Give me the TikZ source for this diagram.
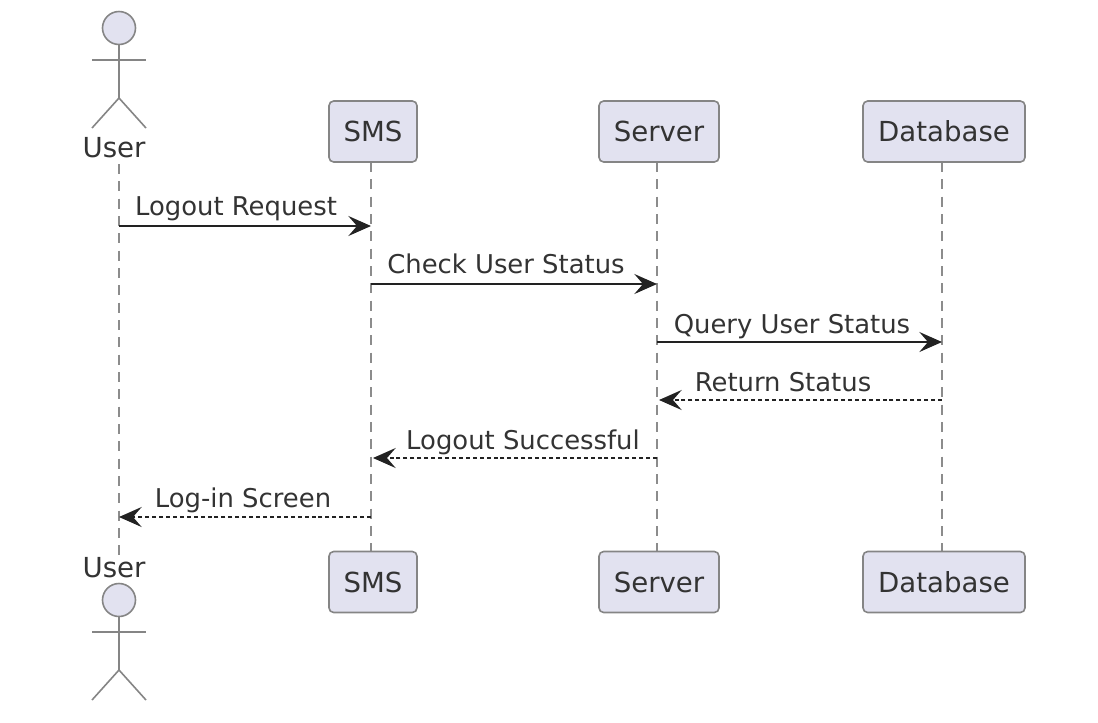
\documentclass[tikz,border=0pt]{standalone}
\usepackage{fontspec}
\setmainfont{DejaVu Sans}
\usepackage{tikz}
\usetikzlibrary{arrows.meta}
\definecolor{partfill}{HTML}{E2E2F0}
\definecolor{partline}{HTML}{858585}
\definecolor{lifeline}{HTML}{8C8C8C}
\definecolor{inktext}{HTML}{333333}
\definecolor{msgline}{HTML}{222222}

\begin{document}
\begin{tikzpicture}[
		x=0.75pt, y=-0.75pt,
		part/.style={draw=partline, fill=partfill, text=inktext, rounded corners=3.5pt, line width=1.2pt, minimum height=45.75pt, inner sep=0pt, font=\fontsize{20.7}{24}\selectfont},
		actorlabel/.style={text=inktext, anchor=base, inner sep=0pt, font=\fontsize{20.7}{24}\selectfont},
		msglabel/.style={text=inktext, anchor=base, inner sep=0pt, font=\fontsize{19.4}{23}\selectfont},
		stick/.style={draw=partline, line width=1.2pt},
		life/.style={draw=lifeline, line width=1.1pt, dash pattern=on 7.5pt off 5.5pt},
		call/.style={-{Stealth[length=17pt, width=15pt, inset=6.5pt]}, draw=msgline, line width=1.4pt},
		reply/.style={call, dash pattern=on 3pt off 2.2pt}
	]
	\useasboundingbox (0, 0) rectangle (1098, 722);

	% Lifeline ends
	\node[actorlabel] (usertop) at (114, 157) {User};
	\node[actorlabel] (userbot) at (114, 577) {User};
	\coordinate (ulstart) at (119, 164);
	\coordinate (ulend) at (119, 555);

	% Lifelines, drawn under the boxes
	\draw[life] (ulstart) -- (ulend);
	\draw[life] (371, 162) coordinate (slstart) -- (371, 552) coordinate (slend);
	\draw[life] (657, 162) coordinate (vlstart) -- (657, 552) coordinate (vlend);
	\draw[life] (942, 162) coordinate (dlstart) -- (942, 552) coordinate (dlend);

	% Top row
	\node[part, minimum width=66pt] (smstop) at (373, 131.5) {SMS};
	\node[part, minimum width=90pt] (servertop) at (659, 131.5) {Server};
	\node[part, minimum width=121.5pt] (dbtop) at (944, 131.5) {Database};

	% Bottom row
	\node[part, minimum width=66pt] (smsbot) at (373, 582) {SMS};
	\node[part, minimum width=90pt] (serverbot) at (659, 582) {Server};
	\node[part, minimum width=121.5pt] (dbbot) at (944, 582) {Database};

	% Actor, top
	\node[stick, circle, fill=partfill, minimum size=24.75pt, inner sep=0pt] (headtop) at (119, 28) {};
	\draw[stick] (headtop.south) -- (119, 98) coordinate (hiptop);
	\draw[stick] (92, 60) -- (146, 60);
	\draw[stick] (92, 128) -- (hiptop) -- (146, 128);

	% Actor, bottom
	\node[stick, circle, fill=partfill, minimum size=24.75pt, inner sep=0pt] (headbot) at (119, 600) {};
	\draw[stick] (headbot.south) -- (119, 670) coordinate (hipbot);
	\draw[stick] (92, 632) -- (146, 632);
	\draw[stick] (92, 700) -- (hipbot) -- (146, 700);

	% Messages
	\draw[call] (119, 226) coordinate (m1a) -- (371, 226) coordinate (m1b);
	\node[msglabel] (m1) at (236, 215) {Logout Request};
	\draw[call] (371, 284) coordinate (m2a) -- (657, 284) coordinate (m2b);
	\node[msglabel] (m2) at (506, 273) {Check User Status};
	\draw[call] (657, 342) coordinate (m3a) -- (942, 342) coordinate (m3b);
	\node[msglabel] (m3) at (792, 333) {Query User Status};

	% Replies
	\draw[reply] (942, 400) coordinate (m4a) -- (659, 400) coordinate (m4b);
	\node[msglabel] (m4) at (783, 391) {Return Status};
	\draw[reply] (657, 458) coordinate (m5a) -- (373, 458) coordinate (m5b);
	\node[msglabel] (m5) at (523, 449) {Logout Successful};
	\draw[reply] (371, 517) coordinate (m6a) -- (119, 517) coordinate (m6b);
	\node[msglabel] (m6) at (243, 507) {Log-in Screen};
\end{tikzpicture}
\end{document}
